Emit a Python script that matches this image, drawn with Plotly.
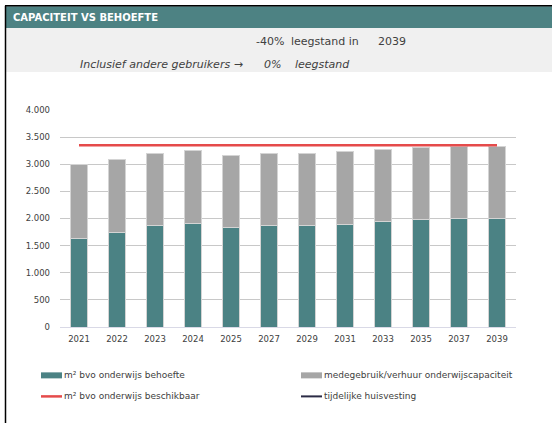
import plotly.graph_objects as go

# ---- data ----
years = ["2021", "2022", "2023", "2024", "2025", "2027", "2029", "2031", "2033", "2035", "2037", "2039"]
behoefte = [1640, 1750, 1865, 1900, 1830, 1865, 1865, 1890, 1940, 1975, 1995, 1995]
medegebruik = [1350, 1345, 1335, 1345, 1340, 1340, 1335, 1340, 1340, 1330, 1340, 1335]
beschikbaar = [3350] * 12
tijdelijk = [None] * 12
series_names = ["m² bvo onderwijs behoefte", "medegebruik/verhuur onderwijscapaciteit",
                "m² bvo onderwijs beschikbaar", "tijdelijke huisvesting"]
title_text = "CAPACITEIT VS BEHOEFTE"
leegstand_pct = "-40%"
leegstand_year = "2039"
leegstand_incl_pct = "0%"

TEAL = "#4b8284"
GRAY = "#a6a6a6"
RED = "#e54b4b"
NAVY = "#2b2b45"
FONT = "DejaVu Sans"
TXT = "#404040"

W, H = 552, 423
L, R, T, B = 60, 516, 110, 326.7


def px(x):
    return (x - L) / (R - L)


def py(y):
    return (B - y) / (B - T)


fig = go.Figure()
fig.add_trace(go.Bar(x=years, y=behoefte, name=series_names[0], marker=dict(color=TEAL, line=dict(color="#d4d4d4", width=1)), width=0.44))
fig.add_trace(go.Bar(x=years, y=medegebruik, name=series_names[1], marker=dict(color=GRAY, line=dict(color="#d4d4d4", width=1)), width=0.44))
fig.add_trace(go.Scatter(x=years, y=beschikbaar, name=series_names[2], mode="lines", line=dict(color=RED, width=2.5)))
fig.add_trace(go.Scatter(x=years, y=tijdelijk, name=series_names[3], mode="lines", line=dict(color=NAVY, width=2)))

shapes = [
    # header band
    dict(type="rect", xref="paper", yref="paper", x0=px(5), x1=px(552), y0=py(28), y1=py(6.5), fillcolor="#4d8283", line_width=0, layer="below"),
    dict(type="rect", xref="paper", yref="paper", x0=px(6), x1=px(552), y0=py(72), y1=py(28), fillcolor="#f0f0f0", line_width=0, layer="below"),
    dict(type="line", xref="paper", yref="paper", x0=px(5), x1=px(552), y0=py(6), y1=py(6), line=dict(color="#000000", width=1.5)),
    dict(type="line", xref="paper", yref="paper", x0=px(5.5), x1=px(5.5), y0=py(6), y1=py(423), line=dict(color="#000000", width=1.5)),
    # legend symbols
    dict(type="rect", xref="paper", yref="paper", x0=px(41), x1=px(62), y0=py(378), y1=py(372), fillcolor=TEAL, line_width=0),
    dict(type="rect", xref="paper", yref="paper", x0=px(301), x1=px(322), y0=py(378), y1=py(372), fillcolor=GRAY, line_width=0),
    dict(type="line", xref="paper", yref="paper", x0=px(41), x1=px(62), y0=py(396), y1=py(396), line=dict(color=RED, width=2.5)),
    dict(type="line", xref="paper", yref="paper", x0=px(301), x1=px(322), y0=py(396), y1=py(396), line=dict(color=NAVY, width=2)),
]

ann = []


def text(x, y, s, anchor="left", size=9, color=TXT, bold=False, italic=False):
    if bold:
        s = "<b>" + s + "</b>"
    if italic:
        s = "<i>" + s + "</i>"
    ann.append(dict(x=px(x), y=py(y), xref="paper", yref="paper", text=s, showarrow=False,
                    xanchor=anchor, yanchor="middle", borderpad=0,
                    font=dict(family=FONT, size=size, color=color)))


text(12, 17.5, title_text, size=10, color="#ffffff", bold=True)
text(285, 42, leegstand_pct, anchor="right", size=11)
text(290, 42, "leegstand in", size=11)
text(377, 42, leegstand_year, size=11)
text(244, 64.5, "Inclusief andere gebruikers →", anchor="right", size=11, italic=True)
text(282, 64.5, leegstand_incl_pct, anchor="right", size=11, italic=True)
text(294, 64.5, "leegstand", size=11, italic=True)
text(63, 375, series_names[0], size=9, color="#404040")
text(323, 375, series_names[1], size=9, color="#404040")
text(63, 396, series_names[2], size=9, color="#404040")
text(323, 396, series_names[3], size=9, color="#404040")

fig.update_layout(
    width=W, height=H,
    margin=dict(l=L, r=W - R, t=T, b=H - B, pad=0),
    barmode="stack",
    showlegend=False,
    plot_bgcolor="#ffffff",
    paper_bgcolor="#ffffff",
    separators=",.",
    font=dict(family=FONT, size=8.5, color="#595959"),
    shapes=shapes,
    annotations=ann,
    xaxis=dict(type="category", showgrid=False, showline=True, linecolor="#d9d9e6", linewidth=1,
               ticks="", tickfont=dict(size=8.5, color="#404040"), ticklabelstandoff=4),
    yaxis=dict(range=[0, 4000], dtick=500, tickformat=",d", showgrid=True, gridcolor="#c8c8c8", gridwidth=1,
               zeroline=False, showline=False, ticks="", tickfont=dict(size=8.5, color="#404040"), ticklabelstandoff=9),
)

fig.write_html("out.html", config={"displayModeBar": False},
               post_script="document.body.style.margin='0';document.body.style.overflow='hidden';")
